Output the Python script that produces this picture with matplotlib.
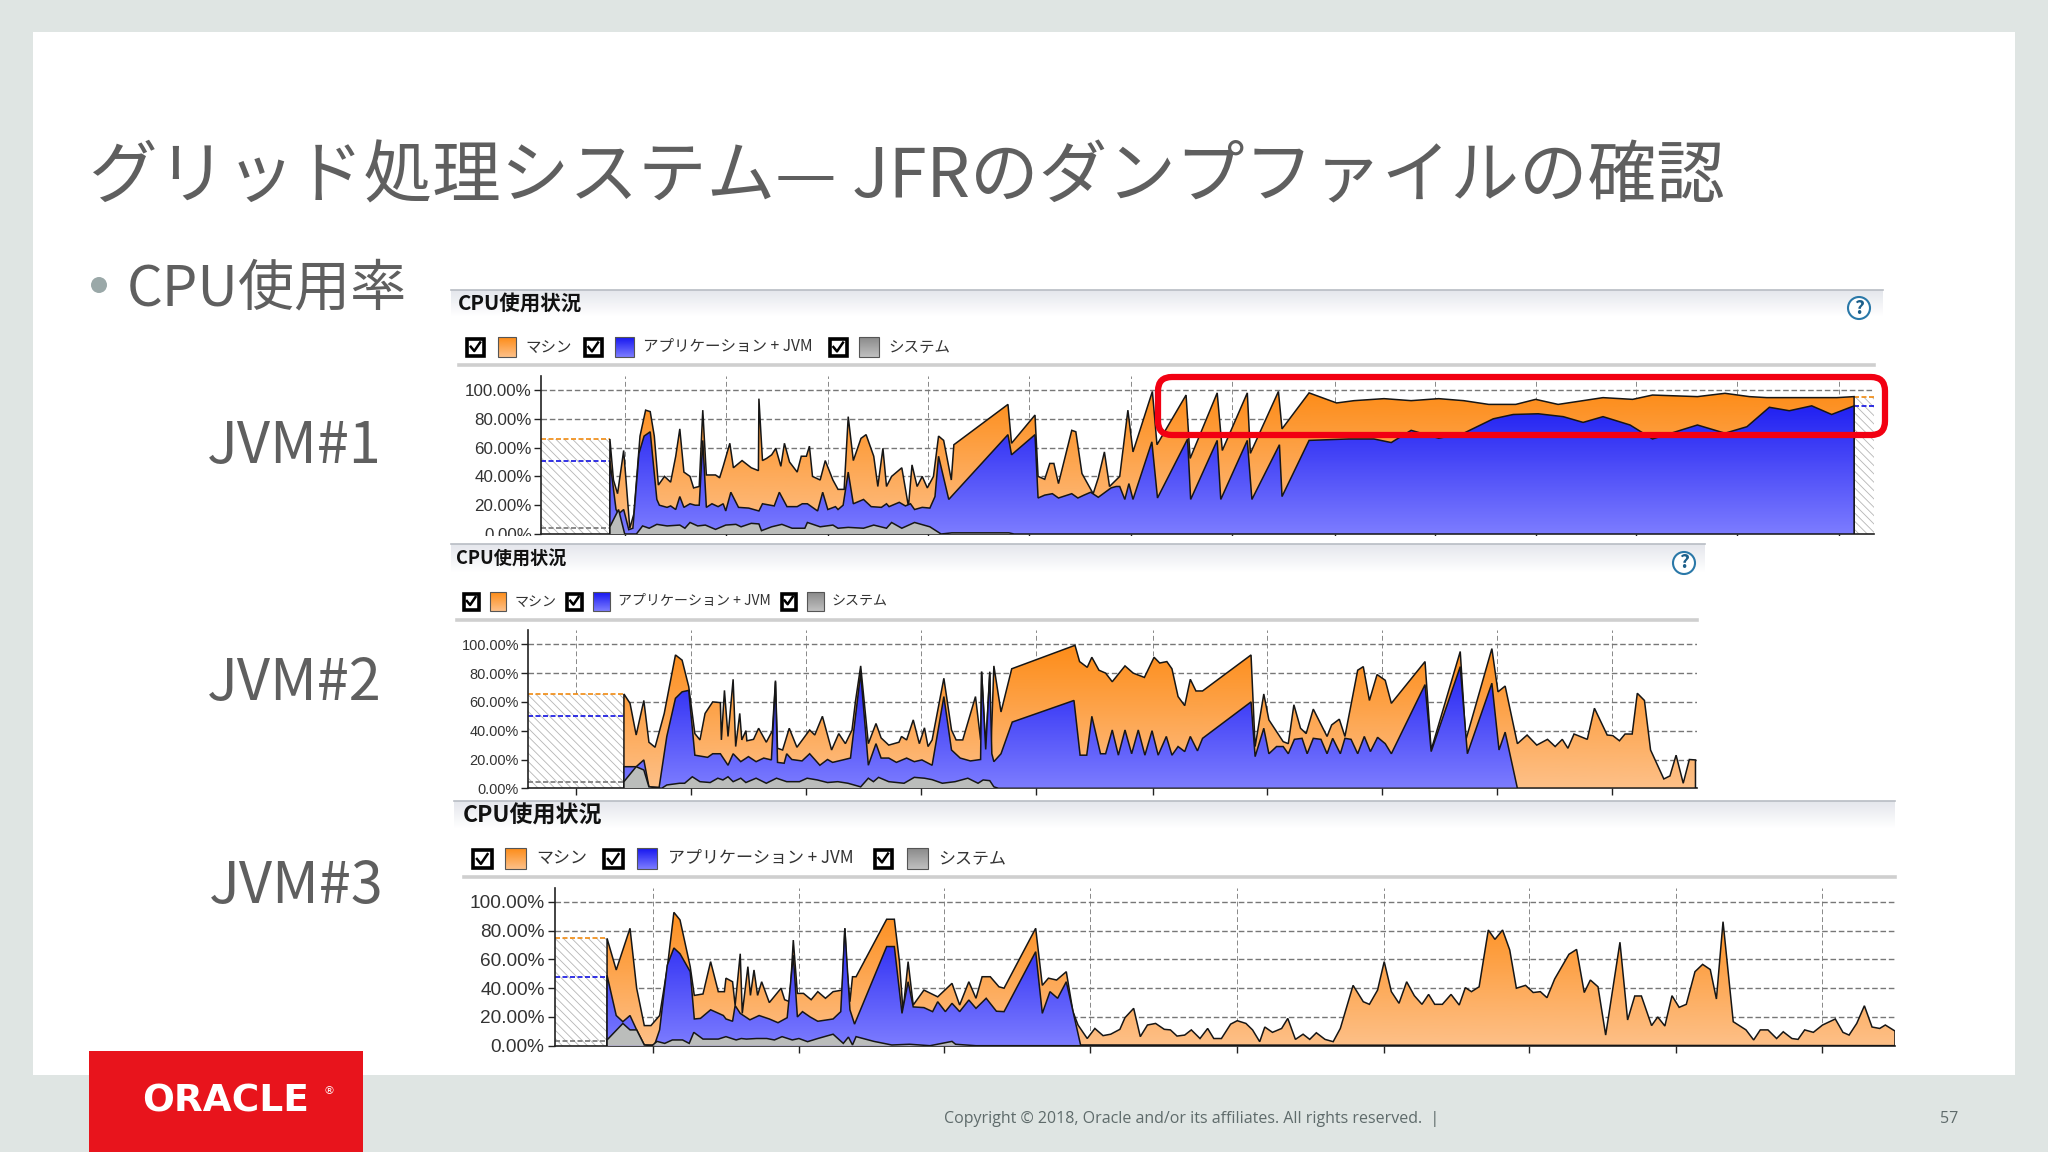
import numpy as np
import matplotlib
matplotlib.use("Agg")
import matplotlib.pyplot as plt
from matplotlib.patches import Rectangle, Polygon, FancyBboxPatch, Circle
from matplotlib.colors import LinearSegmentedColormap
from matplotlib.ticker import FuncFormatter

plt.rcParams['font.family'] = ['Noto Sans CJK JP', 'DejaVu Sans']

# ---------------- DATA ----------------
TITLE = "グリッド処理システム— JFRのダンプファイルの確認"
BULLET = "CPU使用率"
PANEL_TITLE = "CPU使用状況"
SERIES_NAMES = ["マシン", "アプリケーション + JVM", "システム"]
JVM_NAMES = ["JVM#1", "JVM#2", "JVM#3"]
Y_TICKS = [0, 20, 40, 60, 80, 100]
FOOTER = "Copyright © 2018, Oracle and/or its affiliates. All rights reserved.  |"
PAGE = "57"

j1_machine_t = [333,340,348,360,372,380,392,403,412,420,428,440,452,462,470,478,490,497,508,515,522,540,548,555,568,575,592,610,624,625,632,640,650,658,668,675,685,700,708,718,724,730,745,755,770,780,792,800,810,825,835,850,858,868,875,885,905,918,925,935,945,955,967,977,987,1002,1007,1113,1120,1166,1172,1185,1195,1203,1212,1238,1246,1258,1280,1290,1302,1312,1332,1348,1358,1396,1405,1462,1470,1523,1533,1582,1588,1643,1650,1703,1757,1791,1850,1903,1957,2006,2055,2108,2147,2191,2279,2337,2376,2464,2518,2566,2600,2737,2771]
j1_machine = [66,37.5,28,58,4,14,68,86,85,68,34,40,36,54,73,43,40,32,33,86,41,41,39,47,63,46,51,46,44,94,51,52.5,55,59.5,47,63,50,43,54,54,61,40,37.5,51,37.5,31,31,81.5,51,66.4,69,54,33,59.5,33,40,46,19,48,33,40,32,40,68,65,37.5,62,90,63,82.6,40,38,49,49,35,72,71,42,28,39,57,33,40,86,57,99,62,96.5,52.5,98,58,98,56,99,73,98,91,92.6,94,92.6,94,92.6,90,90,93.5,90,94.7,93.5,96.5,95.4,97.7,95.4,94.7,94.7,95.4]
j1_app_t = [333,345,350,360,370,378,390,400,412,425,430,445,452,462,470,478,490,500,508,515,522,533,545,555,560,570,585,605,625,632,655,665,680,700,710,720,740,750,760,775,780,790,800,810,830,845,865,875,880,900,912,922,930,945,960,970,977,997,1113,1120,1166,1172,1185,1200,1212,1238,1250,1262,1275,1290,1315,1325,1332,1342,1350,1358,1395,1406,1465,1471,1523,1530,1582,1591,1645,1650,1703,1781,1830,1864,1903,1957,2006,2064,2103,2152,2201,2240,2279,2332,2376,2464,2518,2561,2605,2644,2688,2727,2771]
j1_app = [51,17,14,17,3,4,56,68,71,24,20,18.5,19.5,17,26,18.5,21,20,20,65,18.5,21,19,21,16,29,18.5,18,16,21,19.5,29,19,19,21,21,16,29,17,19,17,20,43,21,24,19,18.5,21,19,22,19.5,21,17,18.5,18,26,54,24,69,55,69,25,27,28,25,28,25,27,29,25.5,32,33,33,24,35,24,64,25,66,24,65,24,65,24,62,26,65,66,66,63.5,72,66.5,70,80,83,83.5,81.5,77.5,81.5,75.7,66,75.7,70,74.5,88,85.6,89,83,89]
j1_sys_t = [333,350,362,375,385,397,410,425,445,470,480,490,505,520,540,560,580,590,610,625,630,650,670,690,715,720,745,770,780,800,830,850,875,885,905,930,960,975,982,1003,1115,1125,2771]
j1_sys = [5,17,0,0,0,5.6,4,6.7,5.6,6.2,4,8,5.6,6.2,3.2,6.2,6.7,5,7.4,7,2.3,5,6.7,4,4,8,5,6.2,4,4.6,4,6.2,4,8,4,8,5,1.6,0,0.8,0.8,0,0]

j2_machine_t = [361,373,385,400,410,422,440,462,475,488,500,510,520,535,550,552,558,565,575,580,588,592,600,602,615,625,640,652,658,662,672,685,700,725,735,750,768,782,795,808,815,825,840,855,865,880,900,905,915,928,940,950,957,965,988,1003,1012,1025,1050,1060,1062,1070,1078,1080,1086,1100,1121,1245,1254,1269,1278,1292,1305,1318,1343,1359,1381,1400,1411,1425,1435,1447,1460,1471,1482,1495,1590,1598,1615,1625,1653,1663,1674,1687,1698,1712,1739,1748,1763,1774,1799,1810,1822,1837,1853,1865,1931,1943,2000,2011,2062,2074,2088,2112,2131,2150,2171,2186,2200,2211,2223,2249,2263,2288,2299,2312,2323,2337,2347,2361,2373,2399,2411,2423,2437,2449,2461]
j2_machine = [65.5,59,37,61,32,28.5,52,92.6,89,70.6,38,33.6,52,60,59.5,33.6,68,36,75.7,29,52,33.6,40,33,34,41.7,32,40,74.8,27.8,26.6,41.7,28.5,40.5,37,50,26.6,38,31,40.5,61,85,31,45,35,30,32,36,33.6,47.5,31,42,29,33.6,76.4,40.5,33.6,33.6,63.7,33.6,81,29,81,24,85,53,83,99.3,88,84,91,82,80,74,85,80,77,91,87,88,83,63.7,57.4,75.7,67.6,67.6,92.6,29,65.5,47.5,32.4,31,58,41.7,38,55,36,44,48,36,82,84.5,61,79,75,59,88,26.6,95,33.6,97,67,71,31,37,30,34,29,34,27.8,37.7,34,55.6,37,36.6,33,37.7,37.7,66,61,26.6,6.5,8.6,23,3.5,20,19.7]
j2_app_t = [361,385,400,410,430,445,462,475,488,500,525,535,550,565,575,590,605,620,635,650,658,662,675,680,690,710,725,745,760,770,790,805,825,840,855,865,880,895,915,930,945,965,988,1003,1020,1040,1060,1062,1070,1078,1082,1086,1100,1122,1243,1255,1268,1278,1295,1305,1318,1330,1343,1356,1369,1382,1396,1408,1424,1435,1447,1460,1471,1485,1495,1590,1598,1615,1625,1640,1653,1663,1675,1690,1700,1712,1727,1739,1750,1765,1774,1786,1799,1812,1824,1838,1853,1865,1931,1943,2000,2014,2062,2076,2088,2112,2461]
j2_app = [15,15,19.7,1,0.7,36,62.5,67,68,23,21.5,24,24,16,24,18.5,22,18.5,21,19.7,74,18,17.4,24,20,19,24,16,20,18,19.7,21,80,16,31,21,21,18,21,18.5,19.7,16,63.7,26.6,21,19,20,81,27,80,24,18.5,24,46,61,23,23,50,24,24,40.5,23,40.5,24,40.5,23,40,23,36,23,29,25.5,36,26,34.7,60,22,41.7,24,29,29,24,34,34.7,24,34.7,34,24,34.7,24,34.7,34,24,36,25.5,35.4,31,24,72,25.5,84.5,24,73,26.6,39,0,0]
j2_sys_t = [361,385,400,410,435,445,470,480,495,510,530,545,555,565,575,590,600,620,640,660,680,705,720,740,760,780,800,825,840,850,860,880,910,930,950,965,985,1010,1035,1055,1065,1078,1086,1095,2461]
j2_sys = [4.6,15,12.7,1,0,2.3,3.5,3.5,8,4.6,4,7,5.8,8,4.6,7,4,7,3.5,7,4.6,4.6,7,5.8,4,4.6,3.5,1,7,4.6,7.6,4.6,3.5,7.6,7,6,3.5,4.6,7,3.5,5.8,5.3,1,0,0]

j3_machine_t = [327,345,372,385,400,413,430,445,458,470,490,498,515,530,545,557,560,573,578,588,592,603,608,615,622,630,645,668,675,685,692,700,712,727,740,755,770,788,793,797,803,808,815,875,890,900,907,917,927,948,975,1003,1018,1036,1050,1062,1078,1095,1105,1167,1180,1192,1208,1227,1240,1250,1268,1283,1299,1314,1332,1342,1359,1372,1386,1402,1419,1431,1444,1459,1472,1489,1504,1516,1531,1549,1562,1579,1592,1606,1616,1631,1649,1661,1676,1691,1704,1717,1734,1750,1764,1789,1809,1821,1837,1850,1864,1879,1894,1909,1924,1937,1949,1964,1981,1997,2009,2021,2036,2054,2067,2082,2096,2109,2127,2142,2156,2169,2184,2212,2227,2242,2254,2269,2284,2312,2327,2341,2354,2374,2386,2400,2414,2428,2442,2459,2474,2489,2501,2514,2534,2559,2574,2587,2602,2619,2632,2649,2661,2674,2691,2709,2734,2749,2761,2776,2791,2806,2821,2832,2851]
j3_machine = [74.7,52.7,81.7,40,14,14,21,54,92.8,87.5,55,35,36,58.5,37.6,37.6,47,44.5,28,64,22.5,55,35,52.7,35,44.5,30,40,32,30.6,73.5,36.4,36.4,32,37.6,33,37.6,38.7,81.7,53.8,30.6,48,48,88,88,58.5,23.7,58.5,28.3,38.7,34,43.4,28.3,44.5,33,48,48,41,40,81.7,42,47,45.7,51.5,23.7,14.4,5,12,7,8,11.4,19.5,26,6.3,14.4,15.5,11.4,11,6.7,7.4,11,5,12,5,5,15,17.4,15.5,11,2.8,13,9.3,12,19,4.4,8,4.4,9,4.4,2.8,12,42,30.6,28.8,38.7,58.5,37.6,29.5,44.5,34.8,28.8,35.7,28.8,28.8,35.7,28.3,40.4,37.6,41,80.5,74,80.5,66.6,40,42,37,37.6,33.4,46.4,63.6,67,37,45.7,41,7.4,72,17.9,34.6,34.6,14,20,13.7,34.8,26.7,28.8,51.5,56.6,53,32.5,86.3,16.7,11,4,11,11,5,9.7,5,4.4,11,9.3,14.4,18.6,9.3,7.4,15.5,27.8,13,12,14.4,10.2]
j3_app_t = [327,345,358,372,385,400,420,430,445,458,470,490,498,510,530,555,560,573,578,588,607,625,645,662,680,692,700,710,725,740,770,785,793,803,812,875,890,905,917,927,948,965,975,990,1003,1018,1036,1050,1070,1090,1105,1167,1180,1195,1210,1227,1255,2851]
j3_app = [49,21,16.7,21,11,0.5,0.5,11,56,68,64,51.5,18.6,19,25,21,18.6,17,28,22.5,18,21,18.6,16,19.5,63,20,23.7,20,17,18.6,23.7,81.7,25,15,69,69,22.5,44.5,27,26.5,23.7,30.6,23.7,29.5,23.7,31.8,26,33,24,23.7,65.4,22.5,37.6,33,44.5,0.5,0]
j3_sys_t = [327,358,372,385,400,415,425,440,455,475,488,497,515,545,560,580,590,600,620,640,655,670,690,703,720,740,770,790,800,808,815,850,885,920,960,1003,1010,1050,2851]
j3_sys = [4,15.5,11,11,0.5,0,3,1.6,4,4,1.6,9.3,4.6,4.6,6.3,4,5,4.6,5,5,4,6.3,4,5,2.8,5,8,1.6,6,0.5,6.3,3,0.5,1,0,3,1,0,0]

j1_grid = [363,560,760,957,1154,1355,1552,1753,1949,2147,2344,2542,2742]
j2_grid = [268,493,718,943,1169,1398,1622,1847,2072,2298]
j3_grid = [417,703,988,1274,1562,1850,2134,2421,2708]

j1_avg = (66, 51, 4)
j2_avg = (65.5, 50, 4.5)
j3_avg = (74.7, 48, 3)

# ---------------- STYLE ----------------
W, H = 2048, 1152
fig = plt.figure(figsize=(W/100, H/100), dpi=100, facecolor='#dfe5e3')

def px_axes(x0, y0, x1, y1, z, **kw):
    a = fig.add_axes([x0/W, 1-y1/H, (x1-x0)/W, (y1-y0)/H], zorder=z, **kw)
    return a

bg = px_axes(0, 0, W, H, 0)
bg.set_xlim(0, W); bg.set_ylim(H, 0); bg.axis('off')
bg.add_patch(Rectangle((33, 32), 1982, 1043, fc='white', ec='none'))

def vgrad(a, x0, y0, x1, y1, top, bottom, z=2):
    cm = LinearSegmentedColormap.from_list('g', [top, bottom])
    g = np.linspace(0, 1, 64).reshape(-1, 1)
    a.imshow(g, cmap=cm, extent=(x0, x1, y1, y0), aspect='auto', zorder=z, vmin=0, vmax=1)

ORANGE = ('#fd8c18', '#fdc088')
BLUE = ('#1616f0', '#7c7cff')
GRAY = ('#8a8a8a', '#c0c0c0')

def panel(px, py0, py1, rule_x0, rule_x1, rule_y, title_xy, title_px, legend, text_px, help_xy=None):
    x0, x1 = px
    vgrad(bg, x0, py0, x1, py1, '#e4e6ec', '#ffffff')
    bg.plot([x0, x1], [py0, py0], color='#b8bcc4', lw=1.2, zorder=3)
    bg.plot([rule_x0, rule_x1], [rule_y, rule_y], color='#cfcfcf', lw=2.6, zorder=3)
    bg.text(title_xy[0], title_xy[1], PANEL_TITLE, fontsize=title_px*0.72, fontweight='bold',
            color='#111111', va='center', ha='left', zorder=4)
    cols = [ORANGE, BLUE, GRAY]
    for (cb0, cb1, sw0, sw1, tx), name, c in zip(legend['items'], SERIES_NAMES, cols):
        ya, yb = legend['y']
        bg.add_patch(Rectangle((cb0+1.5, ya+1.5), cb1-cb0-3, yb-ya-3, fc='white', ec='black', lw=2.6, zorder=4))
        s = cb1-cb0
        bg.plot([cb0+.27*s, cb0+.45*s, cb0+.75*s], [ya+.5*s, ya+.72*s, ya+.28*s], color='black', lw=1.8, zorder=5)
        vgrad(bg, sw0, ya, sw1, yb, c[0], c[1], z=4)
        bg.add_patch(Rectangle((sw0, ya), sw1-sw0, yb-ya, fc='none', ec='#555555', lw=0.8, zorder=5))
        bg.text(tx, (ya+yb)/2, name, fontsize=text_px*0.72, color='#333333', va='center', ha='left', zorder=5)
    if help_xy:
        bg.add_patch(Circle(help_xy, 11, fc='white', ec='#2a78a8', lw=1.5, zorder=5))
        bg.text(help_xy[0], help_xy[1], '?', fontsize=14, color='#1c5f8a', ha='center', va='center',
                fontweight='bold', zorder=6)

panel((451, 1883), 290, 316, 459, 1874, 365, (458, 303), 20.5,
      {'y': (337, 357), 'items': [(465.5, 485, 498, 515.5, 525), (583, 603, 615, 634, 643), (828, 848, 859, 879, 888)]},
      15.5, (1859, 308))
panel((451, 1705), 544, 572, 457, 1697, 620, (456, 559), 18.2,
      {'y': (592, 611), 'items': [(462, 480, 490, 506, 514.5), (565.5, 583, 593, 610, 617.6), (780, 797, 807, 824, 832)]},
      14, (1684, 563))
panel((454, 1895), 801, 828, 464, 1895, 877, (463, 816), 23,
      {'y': (848, 869), 'items': [(471, 493, 505, 526, 536), (602, 624, 637, 657, 668), (873, 893, 907, 928, 938)]},
      17, None)
bg.set_xlim(0, W); bg.set_ylim(H, 0)

def chart(box, xlim, tick_px, tick_pad, grid_x, avg, pred_end, machine, app, sys_, right_pred=None, z=2):
    x0, y100, x1, y0 = box
    top = y100 - (y0-y100)*0.1
    ax = px_axes(x0, top, x1, y0, z)
    ax.set_facecolor('none')
    ax.set_xlim(*xlim); ax.set_ylim(0, 110)
    ax.set_yticks(Y_TICKS)
    ax.yaxis.set_major_formatter(FuncFormatter(lambda v, p: f"{v:.2f}%"))
    ax.set_xticks(grid_x)
    ax.set_xticklabels([])
    ax.tick_params(axis='y', labelsize=tick_px*0.72, length=5, width=1, colors='#222222', pad=tick_pad)
    ax.tick_params(axis='x', length=5, width=1, color='#222222')
    for lab in ax.get_yticklabels():
        lab.set_family('Liberation Sans'); lab.set_color('#333333')
    for s in ('top', 'right'):
        ax.spines[s].set_visible(False)
    for s in ('left', 'bottom'):
        ax.spines[s].set_linewidth(1.2); ax.spines[s].set_color('#222222')
    ax.set_axisbelow(True)
    ax.grid(axis='y', color='#777777', ls=(0, (4, 2)), lw=1.0, zorder=1)
    ax.grid(axis='x', color='#888888', ls=(0, (5, 3)), lw=0.7, zorder=1)

    spans = [(xlim[0], pred_end)]
    if right_pred:
        spans.append((right_pred[0], xlim[1]))
    avgs = [avg]
    if right_pred:
        avgs.append(right_pred[1])
    plt.rcParams['hatch.linewidth'] = 0.6
    for (a, b), (am, aa, asys) in zip(spans, avgs):
        ax.add_patch(Rectangle((a, 0), b-a, am, fc='white', ec='#b5b5b5', lw=0, hatch='\\\\\\\\', zorder=1.5))
        ax.plot([a, b], [am, am], color='#f08a10', ls=(0, (3, 1.5)), lw=1.2, zorder=2)
        ax.plot([a, b], [aa, aa], color='#1010e0', ls=(0, (3, 1.5)), lw=1.2, zorder=2)
        if asys > 0:
            ax.plot([a, b], [asys, asys], color='#777777', ls=(0, (3, 1.5)), lw=1.2, zorder=2)

    for (t, v), c, zz in zip((machine, app, sys_), (ORANGE, BLUE, ('#b9bbb9', '#bcbebc')), (3, 4, 5)):
        t = np.asarray(t, float); v = np.asarray(v, float)
        verts = np.column_stack([np.r_[t[0], t, t[-1]], np.r_[0, v, 0]])
        poly = Polygon(verts, closed=True, transform=ax.transData, fc='none', ec='none')
        ax.add_patch(poly)
        cm = LinearSegmentedColormap.from_list('g', [c[0], c[1]])
        im = ax.imshow(np.linspace(0, 1, 128).reshape(-1, 1), cmap=cm, extent=(xlim[0], xlim[1], 0, 100),
                       aspect='auto', zorder=zz, vmin=0, vmax=1)
        im.set_clip_path(poly)
        ax.plot(verts[:, 0], verts[:, 1], color='#161616', lw=1.1, zorder=zz+0.5, solid_joinstyle='miter')
    ax.set_xlim(*xlim); ax.set_ylim(0, 110)
    return ax

chart((541, 390, 1874, 534), (198, 2810), 17, 1.5, j1_grid, j1_avg, 333,
      (j1_machine_t, j1_machine), (j1_app_t, j1_app), (j1_sys_t, j1_sys),
      right_pred=(2771, (95.4, 89, 0)), z=1)
# white strip that crops the lower edge of the first screenshot
cover = px_axes(33, 536, 2015, 543, 1.5)
cover.set_xlim(0, 1); cover.set_ylim(1, 0); cover.axis('off')
cover.add_patch(Rectangle((0, 0), 1, 1, fc='white', ec='none'))
chart((528, 644.3, 1697, 788.3), (173, 2464), 14.5, 1.5, j2_grid, j2_avg, 361,
      (j2_machine_t, j2_machine), (j2_app_t, j2_app), (j2_sys_t, j2_sys), z=2)
chart((555, 902, 1895, 1045.7), (225, 2851), 19, 2.5, j3_grid, j3_avg, 327,
      (j3_machine_t, j3_machine), (j3_app_t, j3_app), (j3_sys_t, j3_sys), z=3)

# ---------------- SLIDE TEXT ----------------
fg = px_axes(0, 0, W, H, 5)
fg.set_xlim(0, W); fg.set_ylim(H, 0); fg.axis('off'); fg.patch.set_alpha(0)
fg.text(89, 178, TITLE, fontsize=49.4, color='#5f5f5f', va='center', ha='left')
fg.add_patch(Circle((99, 285), 8, fc='#9aa8a8', ec='none'))
fg.text(127, 290, BULLET, fontsize=40.4, color='#5f5f5f', va='center', ha='left')
for name, xx, yy in zip(JVM_NAMES, (207, 207, 209), (447, 684, 887)):
    fg.text(xx, yy, name, fontsize=41.5, color='#5f5f5f', va='center', ha='left', family='Noto Sans CJK JP')
fg.add_patch(FancyBboxPatch((1158, 377), 727, 58, boxstyle='round,pad=0,rounding_size=14',
                            fc='none', ec='#f20012', lw=4.5))
fg.add_patch(Rectangle((89, 1051), 274, 101, fc='#e8141c', ec='none'))
fg.text(226, 1101, 'ORACLE', fontsize=27, color='white', fontweight='bold', family='DejaVu Sans',
        va='center', ha='center')
fg.text(329, 1091, '®', fontsize=8, color='white', family='DejaVu Sans', va='center', ha='center')
fg.text(944, 1119, FOOTER, fontsize=11.5, color='#5f6b6b', va='center', ha='left', family='Open Sans')
fg.text(1940, 1119, PAGE, fontsize=11.5, color='#5f6b6b', va='center', ha='left', family='Open Sans')

fig.savefig('out.png', dpi=100, facecolor=fig.get_facecolor())
